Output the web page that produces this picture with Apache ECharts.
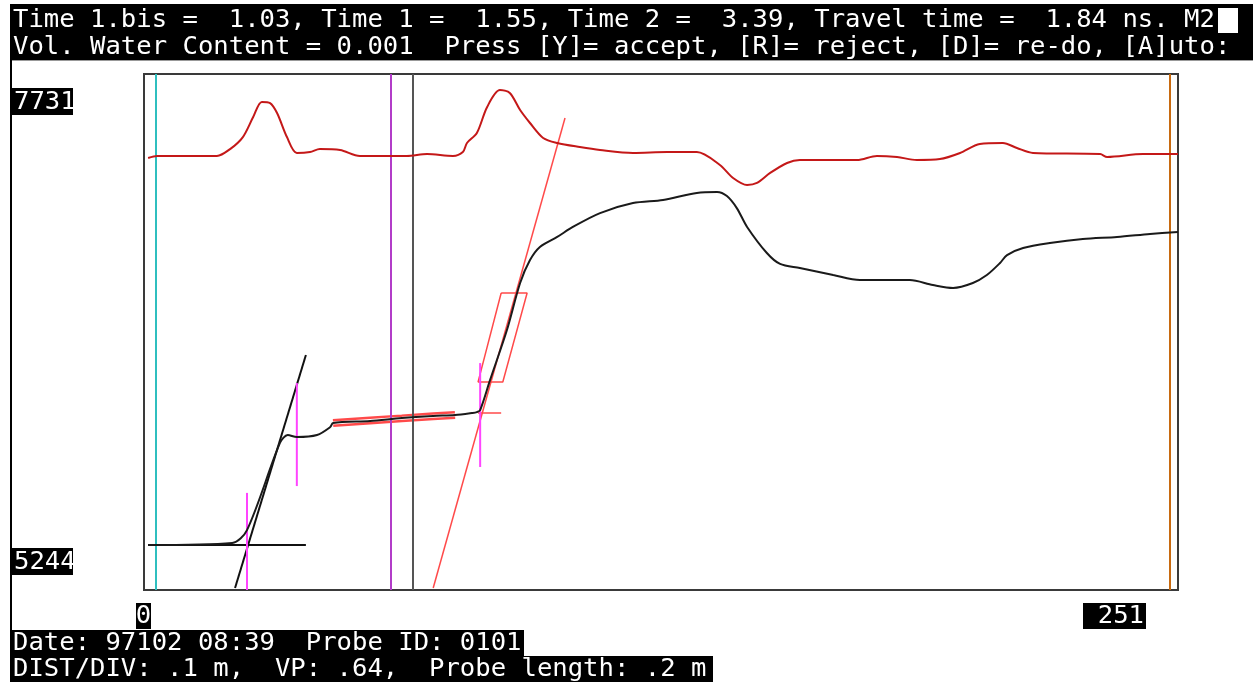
<!DOCTYPE html>
<html>
<head>
<meta charset="UTF-8">
<title>TDR</title>
<script src="https://cdn.jsdelivr.net/npm/echarts@6/dist/echarts.min.js"></script>
<style>
  html, body { margin: 0; padding: 0; background: #fff; }
  #chart { width: 1253px; height: 682px; }
</style>
</head>
<body>
<div id="chart"></div>
<script>
// sample index axis / amplitude axis
var xMin = 0, xMax = 251;
var yMin = 5090, yMax = 7880;

// TDR waveform (black)
var blackX = [1, 21.4, 25, 33, 34.9, 37.1, 42, 45.2, 45.9, 54.9, 62.6, 70.2, 75.5, 79.6, 80.8, 81.6, 84, 88.1, 91.3, 93.7,
              96.1, 100.3, 104.1, 110.7, 118.7, 126, 134.2, 139.1, 141.5, 143.9, 146.4, 151.2, 154.4, 159.2, 167.3, 173.8, 185.9, 191.5, 196.4, 201.2,
              204.6, 207.8, 209.5, 213.4, 219.9, 227.9, 236.2, 244.2, 251];
var blackY = [5333, 5344, 5414, 5885, 5928, 5917, 5928, 5971, 5993, 6004, 6020, 6031, 6036, 6047, 6052, 6063, 6225, 6496, 6750, 6874,
              6945, 6999, 7053, 7128, 7182, 7199, 7237, 7242, 7220, 7155, 7053, 6912, 6853, 6831, 6793, 6766, 6766, 6739, 6723, 6750,
              6793, 6858, 6901, 6939, 6966, 6988, 6999, 7015, 7026];

// derivative trace (red)
var redX = [1, 3.2, 17.7, 20.9, 24, 26.5, 28.6, 30.6, 32.3, 34.7, 37.1, 40.3, 42.7, 47.6, 52.4, 63.8, 68.7, 75, 77.4, 78.4,
            80.8, 83.3, 86.4, 88.8, 91.3, 93.7, 96.9, 100.3, 105.8, 110.7, 118.7, 127, 134.2, 139.8, 143, 146.4, 148.8, 152, 156.1, 159.2,
            173.1, 177.9, 182.8, 187.6, 193.2, 198.1, 202.9, 208.5, 211.9, 215.8, 232.1, 233.8, 242.5, 251];
var redY = [7426, 7437, 7437, 7474, 7539, 7647, 7729, 7723, 7669, 7539, 7453, 7458, 7474, 7469, 7437, 7437, 7447, 7437, 7458, 7507,
            7561, 7702, 7793, 7777, 7685, 7615, 7534, 7507, 7485, 7469, 7453, 7458, 7458, 7388, 7318, 7280, 7291, 7345, 7399, 7415,
            7415, 7437, 7431, 7415, 7420, 7453, 7502, 7507, 7480, 7453, 7447, 7431, 7447, 7447];

// cursors across the full height
var cursorX = [2.9, 60.0, 65.3, 249.1];
var cursorColor = ['#2fbfbf', '#b23cc8', '#555555', '#c86a10'];

// magenta pick marks
var pickX = [25.0, 37.1, 81.6];
var pickLow = [5090, 5652, 5755];
var pickHigh = [5615, 6209, 6317];

// fitted lines
var baseLine = [[1, 5333], [39.3, 5333]];
var slope1 = [[22.1, 5101], [39.3, 6361]];
var slope2 = [[70.2, 5101], [102.2, 7642]];
var flatFit = [[45.9, 5993], [54.9, 6007], [62.6, 6018], [70.2, 6029], [75.5, 6036]];
var endMark = [[81.1, 6047], [86.7, 6047]];
var fitBox = [[86.7, 6696], [93.0, 6696], [87.1, 6215], [81.1, 6215], [86.7, 6696]];

var header1 = 'Time 1.bis =  1.03, Time 1 =  1.55, Time 2 =  3.39, Travel time =  1.84 ns. M2';
var header2 = 'Vol. Water Content = 0.001  Press [Y]= accept, [R]= reject, [D]= re-do, [A]uto:';
var footer1 = 'Date: 97102 08:39  Probe ID: 0101';
var footer2 = 'DIST/DIV: .1 m,  VP: .64,  Probe length: .2 m';

function zip(xs, ys) {
    var out = [];
    for (var i = 0; i < xs.length; i++) out.push([xs[i], ys[i]]);
    return out;
}

var FONT = '25.6px "DejaVu Sans Mono", monospace';

function plain(data, color, width, z) {
    return {
        type: 'line', data: data, showSymbol: false, silent: true, z: z || 2,
        lineStyle: { color: color, width: width }
    };
}

function box(x, y, w, h, fill) {
    return { type: 'rect', shape: { x: x, y: y, width: w, height: h }, style: { fill: fill }, z: 50 };
}
function txt(x, y, s, align) {
    return {
        type: 'text', x: x, y: y, z: 60,
        style: { text: s, fill: '#fff', font: FONT, align: align || 'left', verticalAlign: 'middle' }
    };
}

var chart = echarts.init(document.getElementById('chart'));

var series = [];
series.push(plain(flatFit, '#ff4a4a', 8, 2));
series.push(plain(flatFit, '#ffffff', 3, 3));
series.push(plain(baseLine, '#111', 2, 4));
series.push(plain(slope1, '#111', 2, 4));
series.push(plain(slope2, '#ff4a4a', 1.5, 4));
series.push(plain(endMark, '#ff4a4a', 1.5, 4));
series.push(plain(fitBox, '#ff4a4a', 1.5, 4));
for (var i = 0; i < pickX.length; i++) {
    series.push(plain([[pickX[i], pickLow[i]], [pickX[i], pickHigh[i]]], '#ff44ff', 2, 5));
}
var red = plain(zip(redX, redY), '#c41818', 2, 6);
red.smooth = 0.3;
red.markLine = {
    silent: true, symbol: ['none', 'none'], label: { show: false },
    data: cursorX.map(function (x, k) {
        return { xAxis: x, lineStyle: { color: cursorColor[k], width: 2, type: 'solid' } };
    })
};
series.push(red);
var black = plain(zip(blackX, blackY), '#1a1a1a', 2, 7);
black.smooth = 0.3;
series.push(black);

chart.setOption({
    animation: false,
    backgroundColor: '#ffffff',
    grid: {
        left: 144, top: 74, width: 1034, height: 516,
        show: true, borderColor: '#3a3a3a', borderWidth: 2, backgroundColor: 'transparent'
    },
    xAxis: { type: 'value', min: xMin, max: xMax, show: false },
    yAxis: { type: 'value', min: yMin, max: yMax, show: false },
    series: series,
    graphic: [
        // header
        box(10, 4, 1243, 56, '#000'),
        box(1218, 8, 20, 25, '#fff'),
        txt(13, 20, header1),
        txt(13, 47, header2),
        { type: 'rect', shape: { x: 12, y: 60, width: 1241, height: 1 }, style: { fill: '#999' }, z: 50 },
        // left rule
        box(10, 59, 2, 623, '#000'),
        // amplitude labels
        box(12, 88, 61, 27, '#000'),
        txt(14, 102, '7731'),
        box(12, 548, 61, 27, '#000'),
        txt(14, 562, '5244'),
        // index labels
        box(136, 603, 15, 26, '#000'),
        txt(143.5, 616, '0', 'center'),
        box(1083, 603, 63, 26, '#000'),
        txt(1144, 616, '251', 'right'),
        // footer
        box(10, 630, 514, 26, '#000'),
        txt(13, 643, footer1),
        box(10, 656, 703, 26, '#000'),
        txt(13, 669, footer2)
    ]
});
</script>
</body>
</html>
